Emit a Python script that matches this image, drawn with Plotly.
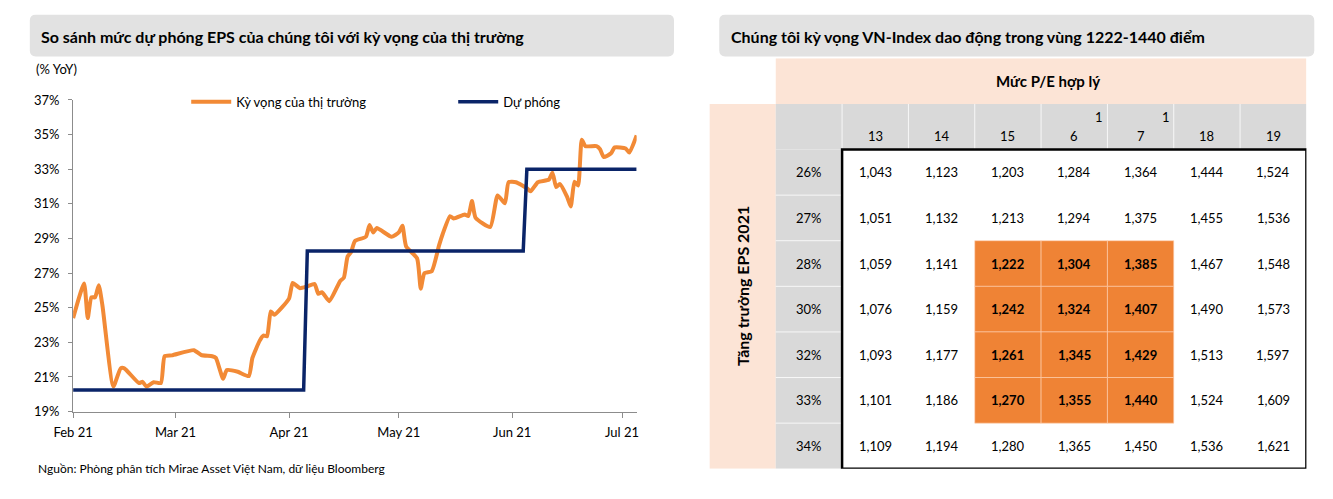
import plotly.graph_objects as go

# ---------------- data: left chart ----------------
market_dates = [
    "2021-02-01", "2021-02-04", "2021-02-05", "2021-02-06", "2021-02-07", "2021-02-08",
    "2021-02-09", "2021-02-12", "2021-02-14", "2021-02-15", "2021-02-19", "2021-02-20",
    "2021-02-21", "2021-02-23", "2021-02-25", "2021-02-26", "2021-02-28", "2021-03-06",
    "2021-03-08", "2021-03-11", "2021-03-12", "2021-03-14", "2021-03-15", "2021-03-18",
    "2021-03-21", "2021-03-22", "2021-03-24", "2021-03-25", "2021-03-26", "2021-03-27",
    "2021-03-28", "2021-04-01", "2021-04-02", "2021-04-04", "2021-04-06", "2021-04-08",
    "2021-04-09", "2021-04-10", "2021-04-12", "2021-04-15", "2021-04-16", "2021-04-17",
    "2021-04-18", "2021-04-19", "2021-04-22", "2021-04-23", "2021-04-24", "2021-04-25",
    "2021-04-29", "2021-05-01", "2021-05-02", "2021-05-03", "2021-05-06", "2021-05-07",
    "2021-05-08", "2021-05-10", "2021-05-12", "2021-05-13", "2021-05-15", "2021-05-16",
    "2021-05-19", "2021-05-20", "2021-05-21", "2021-05-22", "2021-05-26", "2021-05-28",
    "2021-05-30", "2021-05-31", "2021-06-02", "2021-06-05", "2021-06-06", "2021-06-08",
    "2021-06-11", "2021-06-12", "2021-06-13", "2021-06-14", "2021-06-16", "2021-06-17",
    "2021-06-18", "2021-06-19", "2021-06-20", "2021-06-21", "2021-06-24", "2021-06-25",
    "2021-06-26", "2021-06-28", "2021-06-29", "2021-07-02", "2021-07-03", "2021-07-05",
]
market_values = [
    24.4, 26.4, 24.4, 25.6, 25.6, 26.3,
    25.15, 20.45, 21.5, 21.5, 20.65, 20.72,
    20.45, 20.7, 20.65, 22.2, 22.25, 22.55,
    22.27, 22.2, 22.1, 20.9, 21.4, 21.3,
    21.05, 22.1, 23.1, 23.39, 23.35, 24.79,
    24.6, 25.53, 26.43, 26.13, 26.24, 26.37,
    25.8, 25.9, 25.38, 26.55, 26.74, 27.95,
    28.23, 28.85, 29.1, 29.78, 29.35, 29.6,
    29.1, 29.35, 29.73, 28.55, 27.85, 26.1,
    27.0, 27.11, 28.6, 29.26, 30.29, 30.15,
    30.38, 30.3, 31.16, 30.19, 29.67, 31.49,
    31.03, 32.25, 32.25, 31.9, 31.72, 32.25,
    32.4, 32.8, 31.97, 32.15, 31.4, 30.85,
    32.28, 32.06, 34.7, 34.33, 34.33, 34.15,
    33.7, 33.92, 34.26, 34.2, 33.96, 34.95,
]
forecast_dates = ["2021-02-01", "2021-04-05", "2021-04-06", "2021-06-04", "2021-06-05", "2021-07-05"]
forecast_values = [20.25, 20.25, 28.27, 28.27, 33.0, 33.0]

month_ticks = ["2021-02-01", "2021-03-01", "2021-04-01", "2021-05-01", "2021-06-01", "2021-07-01"]
month_labels = ["Feb 21", "Mar 21", "Apr 21", "May 21", "Jun 21", "Jul 21"]
y_ticks = [19, 21, 23, 25, 27, 29, 31, 33, 35, 37]

# ---------------- data: right table ----------------
pe_levels = ["13", "14", "15", "16", "17", "18", "19"]
eps_growth = ["26%", "27%", "28%", "30%", "32%", "33%", "34%"]
index_values = [
    [1043, 1123, 1203, 1284, 1364, 1444, 1524],
    [1051, 1132, 1213, 1294, 1375, 1455, 1536],
    [1059, 1141, 1222, 1304, 1385, 1467, 1548],
    [1076, 1159, 1242, 1324, 1407, 1490, 1573],
    [1093, 1177, 1261, 1345, 1429, 1513, 1597],
    [1101, 1186, 1270, 1355, 1440, 1524, 1609],
    [1109, 1194, 1280, 1365, 1450, 1536, 1621],
]
highlight_growth = ["28%", "30%", "32%", "33%"]
highlight_pe = ["15", "16", "17"]
wrapped_pe = ["16", "17"]  # header labels that wrap onto two lines in the source

# ---------------- styling ----------------
W, H = 1333, 499
FONT = "Lato"
ORANGE = "#F28A36"
NAVY = "#0A2468"
PEACH = "#FCE4D6"
GRAY = "#D9D9D9"
CELL_ORANGE = "#EF8335"
TITLE_BG = "#E2E2E2"


def px(x):
    return x / W


def py(y):
    return (H - y) / H


fig = go.Figure()

fig.add_trace(go.Scatter(
    x=market_dates, y=market_values, mode="lines", name="Kỳ vọng của thị trường",
    line=dict(color=ORANGE, width=4, shape="spline", smoothing=0.5),
    xaxis="x", yaxis="y", hoverinfo="skip",
))
fig.add_trace(go.Scatter(
    x=forecast_dates, y=forecast_values, mode="lines", name="Dự phóng",
    line=dict(color=NAVY, width=3.5),
    xaxis="x", yaxis="y", hoverinfo="skip",
))

axis_gray = "#8C8C8C"
fig.update_layout(
    width=W, height=H,
    margin=dict(l=0, r=0, t=0, b=0),
    paper_bgcolor="white", plot_bgcolor="white",
    font=dict(family=FONT, size=13, color="black"),
    showlegend=True,
    legend=dict(
        orientation="h", x=px(169), xanchor="left", y=py(97), yanchor="middle",
        bgcolor="rgba(0,0,0,0)", font=dict(size=13, family=FONT),
        entrywidth=212, entrywidthmode="pixels", itemwidth=40,
    ),
    xaxis=dict(
        domain=[px(54), px(627)], type="date",
        range=["2021-02-01", "2021-07-05"],
        tickvals=month_ticks, ticktext=month_labels,
        showgrid=False, zeroline=False,
        showline=True, linecolor=axis_gray, linewidth=1,
        ticks="outside", ticklen=5, tickcolor=axis_gray,
        tickfont=dict(size=13), ticklabelstandoff=4,
    ),
    yaxis=dict(
        domain=[py(417), py(95)], range=[19, 37],
        tickvals=y_ticks, ticktext=[f"{v}%" for v in y_ticks],
        showgrid=False, zeroline=False,
        showline=True, linecolor=axis_gray, linewidth=1,
        ticks="outside", ticklen=4, tickcolor=axis_gray,
        tickfont=dict(size=13), ticklabelstandoff=6,
    ),
    xaxis2=dict(domain=[px(701), px(1308)], range=[-2, 7], visible=False, fixedrange=True),
    yaxis2=dict(domain=[py(476), py(52)], range=[7, -2], visible=False, fixedrange=True),
)

shapes = []
annotations = []


def rounded_box(x0, y0, x1, y1, r=6):
    rx, ry = r / W, r / H
    X0, X1 = px(x0), px(x1)
    Y0, Y1 = py(y1), py(y0)  # bottom, top
    path = (f"M{X0+rx},{Y1} L{X1-rx},{Y1} Q{X1},{Y1} {X1},{Y1-ry} "
            f"L{X1},{Y0+ry} Q{X1},{Y0} {X1-rx},{Y0} L{X0+rx},{Y0} "
            f"Q{X0},{Y0} {X0},{Y0+ry} L{X0},{Y1-ry} Q{X0},{Y1} {X0+rx},{Y1} Z")
    return dict(type="path", xref="paper", yref="paper", path=path,
                fillcolor=TITLE_BG, line=dict(width=0), layer="below")


# title boxes
shapes.append(rounded_box(10, 7, 665, 50))
shapes.append(rounded_box(711, 7, 1316, 50))
annotations.append(dict(
    xref="paper", yref="paper", x=px(19), y=py(29), xanchor="left", yanchor="middle",
    text="<b>So sánh mức dự phóng EPS của chúng tôi với kỳ vọng của thị trường</b>",
    showarrow=False, font=dict(size=16, family=FONT, color="black")))
annotations.append(dict(
    xref="paper", yref="paper", x=px(721), y=py(29), xanchor="left", yanchor="middle",
    text="<b>Chúng tôi kỳ vọng VN-Index dao động trong vùng 1222-1440 điểm</b>",
    showarrow=False, font=dict(size=16, family=FONT, color="black")))

# left chart texts
annotations.append(dict(
    xref="paper", yref="paper", x=px(14), y=py(63), xanchor="left", yanchor="middle",
    text="(% YoY)", showarrow=False, font=dict(size=13, family=FONT)))
annotations.append(dict(
    xref="paper", yref="paper", x=px(16), y=py(476), xanchor="left", yanchor="middle",
    text="Nguồn: Phòng phân tích Mirae Asset Việt Nam, dữ liệu Bloomberg",
    showarrow=False, font=dict(size=12, family=FONT)))

# ---------------- table ----------------
n_cols = len(pe_levels)
n_rows = len(eps_growth)
T = dict(xref="x2", yref="y2")

# peach header + peach side column
shapes.append(dict(type="rect", **T, x0=-1, x1=n_cols, y0=-2, y1=-1, fillcolor=PEACH, line=dict(width=0)))
shapes.append(dict(type="rect", **T, x0=-2, x1=-1, y0=-1, y1=n_rows, fillcolor=PEACH, line=dict(width=0)))
# gray header row and gray label column
shapes.append(dict(type="rect", **T, x0=-1, x1=n_cols, y0=-1, y1=0, fillcolor=GRAY, line=dict(width=0)))
shapes.append(dict(type="rect", **T, x0=-1, x1=0, y0=0, y1=n_rows, fillcolor=GRAY, line=dict(width=0)))
# thin white separators in the gray area
for c in range(0, n_cols):
    shapes.append(dict(type="line", **T, x0=c, x1=c, y0=-1, y1=0,
                       line=dict(color="rgba(255,255,255,0.8)", width=1)))
for r in range(1, n_rows):
    shapes.append(dict(type="line", **T, x0=-1, x1=0, y0=r, y1=r,
                       line=dict(color="rgba(255,255,255,0.8)", width=1)))

# highlighted cells
for r, g in enumerate(eps_growth):
    for c, p in enumerate(pe_levels):
        if g in highlight_growth and p in highlight_pe:
            shapes.append(dict(type="rect", **T, x0=c, x1=c + 1, y0=r, y1=r + 1,
                               fillcolor=CELL_ORANGE,
                               line=dict(color="rgba(255,210,180,0.6)", width=1)))

# thick border around data grid
shapes.append(dict(type="rect", **T, x0=0, x1=n_cols, y0=0, y1=n_rows,
                   fillcolor="rgba(0,0,0,0)", line=dict(color="black", width=2.5)))

# header texts
annotations.append(dict(**T, x=n_cols / 2 - 0.4, y=-1.5, text="<b>Mức P/E hợp lý</b>", showarrow=False,
                        font=dict(size=15, family=FONT), xanchor="center", yanchor="middle"))
annotations.append(dict(**T, x=-1.5, y=n_rows / 2 - 0.5, text="<b>Tăng trưởng EPS 2021</b>", showarrow=False,
                        textangle=-90, font=dict(size=16, family=FONT), xanchor="center", yanchor="middle"))

for c, p in enumerate(pe_levels):
    if p in wrapped_pe:
        annotations.append(dict(**T, x=c + 0.97, y=-0.71, text=p[0], showarrow=False,
                                font=dict(size=13, family=FONT), xanchor="right", yanchor="middle"))
        annotations.append(dict(**T, x=c + 0.5, y=-0.29, text=p[1:], showarrow=False,
                                font=dict(size=13, family=FONT), xanchor="center", yanchor="middle"))
    else:
        annotations.append(dict(**T, x=c + 0.5, y=-0.29, text=p, showarrow=False,
                                font=dict(size=13, family=FONT), xanchor="center", yanchor="middle"))

for r, g in enumerate(eps_growth):
    annotations.append(dict(**T, x=-0.5, y=r + 0.5, text=g, showarrow=False,
                            font=dict(size=13, family=FONT), xanchor="center", yanchor="middle"))
    for c, p in enumerate(pe_levels):
        v = f"{index_values[r][c]:,}"
        bold = g in highlight_growth and p in highlight_pe
        annotations.append(dict(**T, x=c + 0.5, y=r + 0.5, text=f"<b>{v}</b>" if bold else v,
                                showarrow=False, font=dict(size=13, family=FONT),
                                xanchor="center", yanchor="middle"))

fig.update_layout(shapes=shapes, annotations=annotations)
fig.write_html("out.html", config={"displayModeBar": False},
               post_script="document.body.style.margin='0';")
